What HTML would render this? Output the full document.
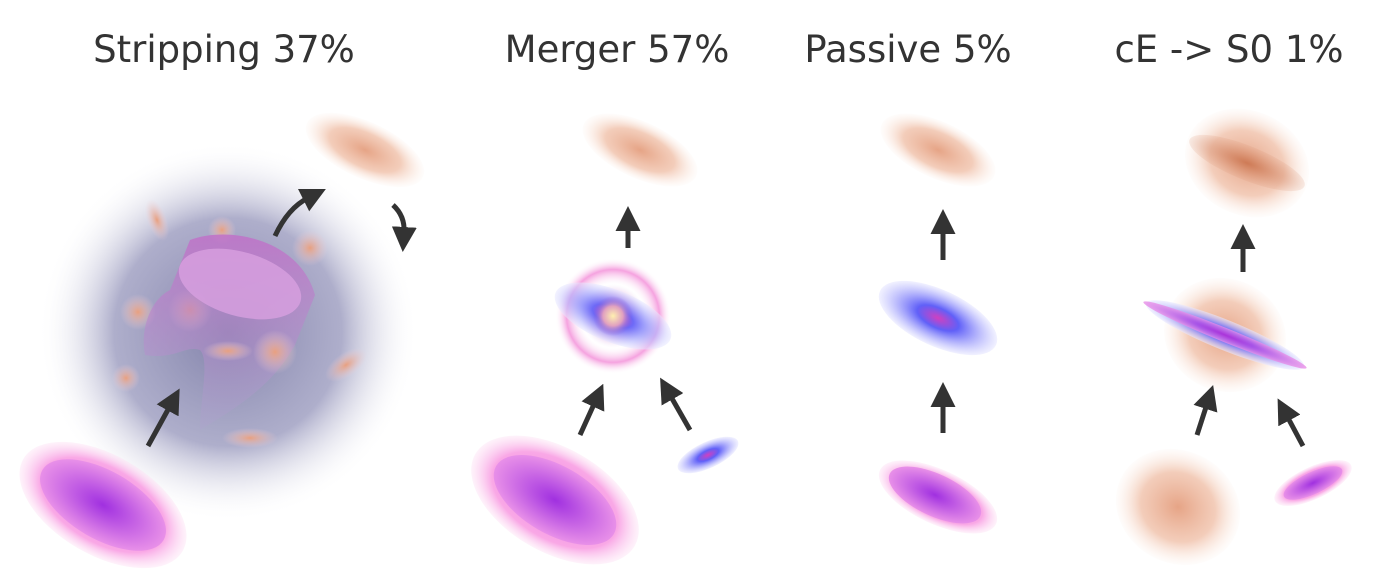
<!DOCTYPE html>
<html><head><meta charset="utf-8"><style>
html,body{margin:0;padding:0;background:#fff;}
svg{display:block;}
text{font-family:"DejaVu Sans","Liberation Sans",sans-serif;fill:#333;font-size:37px;}
</style></head><body>
<svg width="1392" height="582" viewBox="0 0 1392 582">
<defs>
<radialGradient id="orange"><stop offset="0" stop-color="#e6a486"/><stop offset="0.6" stop-color="#f1c4ae" stop-opacity="0.85"/><stop offset="1" stop-color="#fbe8de" stop-opacity="0.1"/></radialGradient>
<radialGradient id="orangeDark"><stop offset="0" stop-color="#c8704a"/><stop offset="1" stop-color="#d89070" stop-opacity="0.2"/></radialGradient>
<radialGradient id="halo"><stop offset="0" stop-color="#8282aa"/><stop offset="0.6" stop-color="#a0a0c2" stop-opacity="0.85"/><stop offset="1" stop-color="#ffffff" stop-opacity="0"/></radialGradient>
<radialGradient id="pinkOuter"><stop offset="0" stop-color="#f080e0"/><stop offset="0.75" stop-color="#f9a8e6"/><stop offset="1" stop-color="#fde0f4" stop-opacity="0.4"/></radialGradient>
<radialGradient id="pinkInner"><stop offset="0" stop-color="#a030e0"/><stop offset="1" stop-color="#e890e8"/></radialGradient>
<radialGradient id="blueDisk"><stop offset="0" stop-color="#d040c0"/><stop offset="0.35" stop-color="#6060f8"/><stop offset="1" stop-color="#e8e8ff" stop-opacity="0.6"/></radialGradient>
<radialGradient id="ring"><stop offset="0" stop-color="#ffeaa0"/><stop offset="0.25" stop-color="#c070d0"/><stop offset="0.55" stop-color="#ffffff" stop-opacity="0.2"/><stop offset="0.8" stop-color="#f498dc" stop-opacity="0.9"/><stop offset="1" stop-color="#ffffff" stop-opacity="0"/></radialGradient>
<radialGradient id="core"><stop offset="0" stop-color="#fff0b0"/><stop offset="0.5" stop-color="#e0a0c0"/><stop offset="1" stop-color="#8060e0" stop-opacity="0"/></radialGradient>
<radialGradient id="blob"><stop offset="0" stop-color="#e8a080"/><stop offset="1" stop-color="#f0d0d8" stop-opacity="0"/></radialGradient>
<linearGradient id="funnel" x1="0" y1="0" x2="0" y2="1"><stop offset="0" stop-color="#c070c8" stop-opacity="0.85"/><stop offset="1" stop-color="#b0a0d0" stop-opacity="0.25"/></linearGradient>
<marker id="ah" markerWidth="5" markerHeight="5" refX="1" refY="2.5" orient="auto" markerUnits="strokeWidth"><path d="M0,0 L5,2.5 L0,5 Z" fill="#333"/></marker>
</defs>

<text x="224" y="62" text-anchor="middle">Stripping 37%</text>
<text x="617" y="62" text-anchor="middle">Merger 57%</text>
<text x="908" y="62" text-anchor="middle">Passive 5%</text>
<text x="1229" y="62" text-anchor="middle">cE -&gt; S0 1%</text>

<g>
<circle cx="228" cy="332" r="190" fill="url(#halo)"/>
<ellipse cx="157" cy="220" rx="10" ry="22" transform="rotate(-20 157 220)" fill="url(#blob)"/>
<circle cx="222" cy="230" r="14" fill="url(#blob)"/>
<circle cx="310" cy="248" r="18" fill="url(#blob)"/>
<circle cx="138" cy="312" r="18" fill="url(#blob)"/>
<circle cx="190" cy="310" r="22" fill="url(#blob)"/>
<circle cx="126" cy="378" r="14" fill="url(#blob)"/>
<ellipse cx="346" cy="365" rx="24" ry="12" transform="rotate(-35 346 365)" fill="url(#blob)"/>
<ellipse cx="250" cy="438" rx="28" ry="10" fill="url(#blob)"/>
<path d="M190,240 C230,225 300,240 315,295 L295,345 C275,380 250,400 200,430 C200,400 210,360 200,350 C185,345 175,360 145,355 C140,330 150,300 170,290 Z" fill="url(#funnel)"/>
<ellipse cx="228" cy="351" rx="25" ry="10" fill="url(#blob)"/>
<circle cx="275" cy="352" r="22" fill="url(#blob)"/>
<ellipse cx="240" cy="284" rx="63" ry="32" transform="rotate(16 240 284)" fill="#d8a0e0" opacity="0.8"/>
<ellipse cx="365" cy="150" rx="64" ry="28" transform="rotate(25 365 150)" fill="url(#orange)"/>
<ellipse cx="103" cy="505" rx="92" ry="50" transform="rotate(30 103 505)" fill="url(#pinkOuter)"/>
<ellipse cx="103" cy="505" rx="70" ry="34" transform="rotate(30 103 505)" fill="url(#pinkInner)"/>
<line x1="148" y1="446" x2="170" y2="406" stroke="#333" stroke-width="5" marker-end="url(#ah)"/>
<path d="M275,236 Q288,208 308,198" fill="none" stroke="#333" stroke-width="5" marker-end="url(#ah)"/>
<path d="M393,205 Q405,216 404,232" fill="none" stroke="#333" stroke-width="5" marker-end="url(#ah)"/>
</g>

<g>
<ellipse cx="640" cy="150" rx="62" ry="28" transform="rotate(25 640 150)" fill="url(#orange)"/>
<line x1="628" y1="248" x2="628" y2="226" stroke="#333" stroke-width="5" marker-end="url(#ah)"/>
<circle cx="613" cy="316" r="58" fill="url(#ring)"/>
<ellipse cx="613" cy="316" rx="62" ry="26" transform="rotate(22 613 316)" fill="url(#blueDisk)" opacity="0.9"/>
<circle cx="613" cy="316" r="20" fill="url(#core)"/>
<ellipse cx="555" cy="500" rx="92" ry="52" transform="rotate(30 555 500)" fill="url(#pinkOuter)"/>
<ellipse cx="555" cy="500" rx="68" ry="34" transform="rotate(30 555 500)" fill="url(#pinkInner)"/>
<ellipse cx="708" cy="455" rx="33" ry="13" transform="rotate(-25 708 455)" fill="url(#blueDisk)"/>
<line x1="580" y1="435" x2="595" y2="402" stroke="#333" stroke-width="5" marker-end="url(#ah)"/>
<line x1="690" y1="430" x2="670" y2="395" stroke="#333" stroke-width="5" marker-end="url(#ah)"/>
</g>

<g>
<ellipse cx="938" cy="150" rx="62" ry="28" transform="rotate(25 938 150)" fill="url(#orange)"/>
<line x1="943" y1="260" x2="943" y2="229" stroke="#333" stroke-width="5" marker-end="url(#ah)"/>
<ellipse cx="938" cy="318" rx="64" ry="28" transform="rotate(25 938 318)" fill="url(#blueDisk)"/>
<line x1="943" y1="433" x2="943" y2="402" stroke="#333" stroke-width="5" marker-end="url(#ah)"/>
<ellipse cx="938" cy="497" rx="64" ry="27" transform="rotate(25 938 497)" fill="url(#pinkOuter)"/>
<ellipse cx="935" cy="495" rx="50" ry="21" transform="rotate(25 935 495)" fill="url(#pinkInner)"/>
</g>

<g>
<ellipse cx="1247" cy="163" rx="64" ry="52" transform="rotate(25 1247 163)" fill="url(#orange)"/>
<ellipse cx="1247" cy="163" rx="62" ry="17" transform="rotate(22 1247 163)" fill="url(#orangeDark)" opacity="0.8"/>
<line x1="1243" y1="272" x2="1243" y2="244" stroke="#333" stroke-width="5" marker-end="url(#ah)"/>
<ellipse cx="1225" cy="335" rx="62" ry="56" transform="rotate(25 1225 335)" fill="url(#orange)"/>
<ellipse cx="1225" cy="335" rx="85" ry="15" transform="rotate(22 1225 335)" fill="url(#blueDisk)"/>
<ellipse cx="1225" cy="335" rx="88" ry="7" transform="rotate(22 1225 335)" fill="url(#pinkInner)" opacity="0.8"/>
<line x1="1197" y1="435" x2="1207" y2="404" stroke="#333" stroke-width="5" marker-end="url(#ah)"/>
<line x1="1303" y1="446" x2="1287" y2="416" stroke="#333" stroke-width="5" marker-end="url(#ah)"/>
<ellipse cx="1178" cy="507" rx="64" ry="56" transform="rotate(30 1178 507)" fill="url(#orange)"/>
<ellipse cx="1313" cy="483" rx="42" ry="16" transform="rotate(-25 1313 483)" fill="url(#pinkOuter)"/>
<ellipse cx="1313" cy="483" rx="32" ry="11" transform="rotate(-25 1313 483)" fill="url(#pinkInner)"/>
</g>
</svg>
</body></html>
